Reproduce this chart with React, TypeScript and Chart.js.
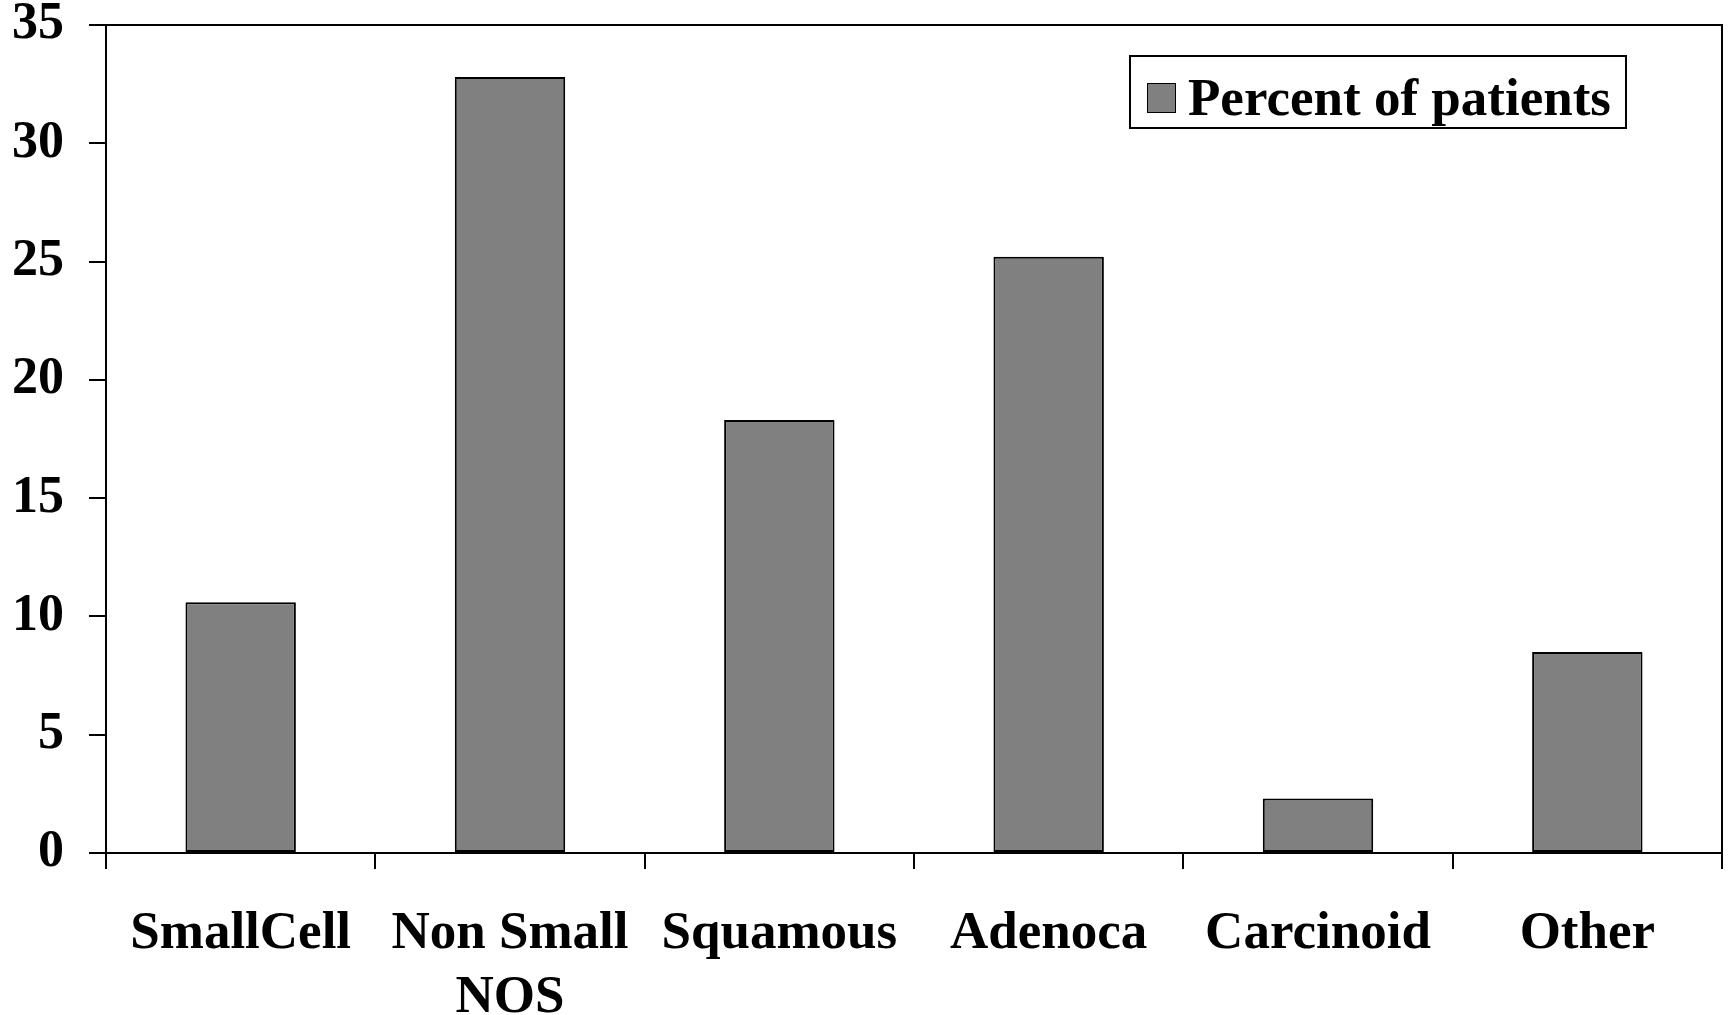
import React, { useEffect, useRef } from "react";
import { Chart, registerables } from "chart.js";

Chart.register(...registerables);

const categories: (string | string[])[] = ["SmallCell", ["Non Small", "NOS"], "Squamous", "Adenoca", "Carcinoid", "Other"];
const percentOfPatients: number[] = [10.6, 32.8, 18.3, 25.2, 2.3, 8.5];
const seriesLabel = "Percent of patients";
const yMin = 0;
const yMax = 35;
const yStep = 5;

const FONT = "'Liberation Serif', 'Times New Roman', serif";
const BAR_GREY = "#808080";

const framePlugin = {
  id: "frame",
  afterDraw(chart: any) {
    const { ctx, chartArea } = chart;
    ctx.save();
    ctx.strokeStyle = "#000";
    ctx.lineWidth = 2;
    ctx.beginPath();
    ctx.moveTo(chartArea.left, chartArea.top);
    ctx.lineTo(chartArea.right, chartArea.top);
    ctx.lineTo(chartArea.right, chartArea.bottom);
    ctx.stroke();
    ctx.restore();
  },
};

export default function App() {
  const canvasRef = useRef<HTMLCanvasElement | null>(null);

  useEffect(() => {
    if (!canvasRef.current) return;
    const chart = new Chart(canvasRef.current, {
      type: "bar",
      data: {
        labels: categories,
        datasets: [
          {
            label: seriesLabel,
            data: percentOfPatients,
            backgroundColor: BAR_GREY,
            borderColor: "#000",
            borderWidth: 2,
            borderSkipped: false,
            barPercentage: 0.41,
            categoryPercentage: 1,
          },
        ],
      },
      options: {
        animation: false,
        responsive: false,
        maintainAspectRatio: false,
        layout: { padding: { left: 0, top: 25, right: 9, bottom: 0 } },
        plugins: {
          legend: { display: false },
          tooltip: { enabled: false },
        },
        scales: {
          x: {
            offset: true,
            grid: {
              offset: true,
              drawOnChartArea: false,
              drawTicks: true,
              tickLength: 16,
              color: "#000",
              lineWidth: 2,
            },
            border: { display: true, color: "#000", width: 2 },
            ticks: {
              color: "#000",
              font: { family: FONT, size: 53, weight: "bold", lineHeight: 1.2 },
              padding: 34,
              maxRotation: 0,
              minRotation: 0,
              autoSkip: false,
            },
            afterFit(scale: any) {
              scale.height = 162;
              scale.paddingLeft = 0;
              scale.paddingRight = 0;
            },
          },
          y: {
            min: yMin,
            max: yMax,
            grid: {
              drawOnChartArea: false,
              drawTicks: true,
              tickLength: 17,
              color: "#000",
              lineWidth: 2,
            },
            border: { display: true, color: "#000", width: 2 },
            ticks: {
              stepSize: yStep,
              color: "#000",
              font: { family: FONT, size: 52, weight: "bold" },
              padding: 25,
            },
            afterFit(scale: any) {
              scale.width = 106;
              scale.paddingTop = 0;
              scale.paddingBottom = 0;
            },
          },
        },
      },
      plugins: [framePlugin],
    });
    return () => chart.destroy();
  }, []);

  return (
    <div style={{ position: "absolute", left: 0, top: 0, width: 1731, height: 1015, background: "#fff" }}>
      <canvas ref={canvasRef} width={1731} height={1015} style={{ display: "block", width: 1731, height: 1015 }} />
      <div
        style={{
          position: "absolute",
          left: 1129,
          top: 55,
          width: 494,
          height: 59,
          paddingTop: 11,
          border: "2px solid #000",
          display: "flex",
          alignItems: "center",
          boxSizing: "content-box",
          fontFamily: FONT,
          fontWeight: "bold",
          fontSize: 53,
          color: "#000",
        }}
      >
        <div
          style={{
            marginLeft: 16,
            width: 27,
            height: 28,
            background: BAR_GREY,
            border: "1.5px solid #000",
            flex: "0 0 auto",
          }}
        />
        <span style={{ marginLeft: 12, lineHeight: "59px", whiteSpace: "nowrap" }}>{seriesLabel}</span>
      </div>
    </div>
  );
}
